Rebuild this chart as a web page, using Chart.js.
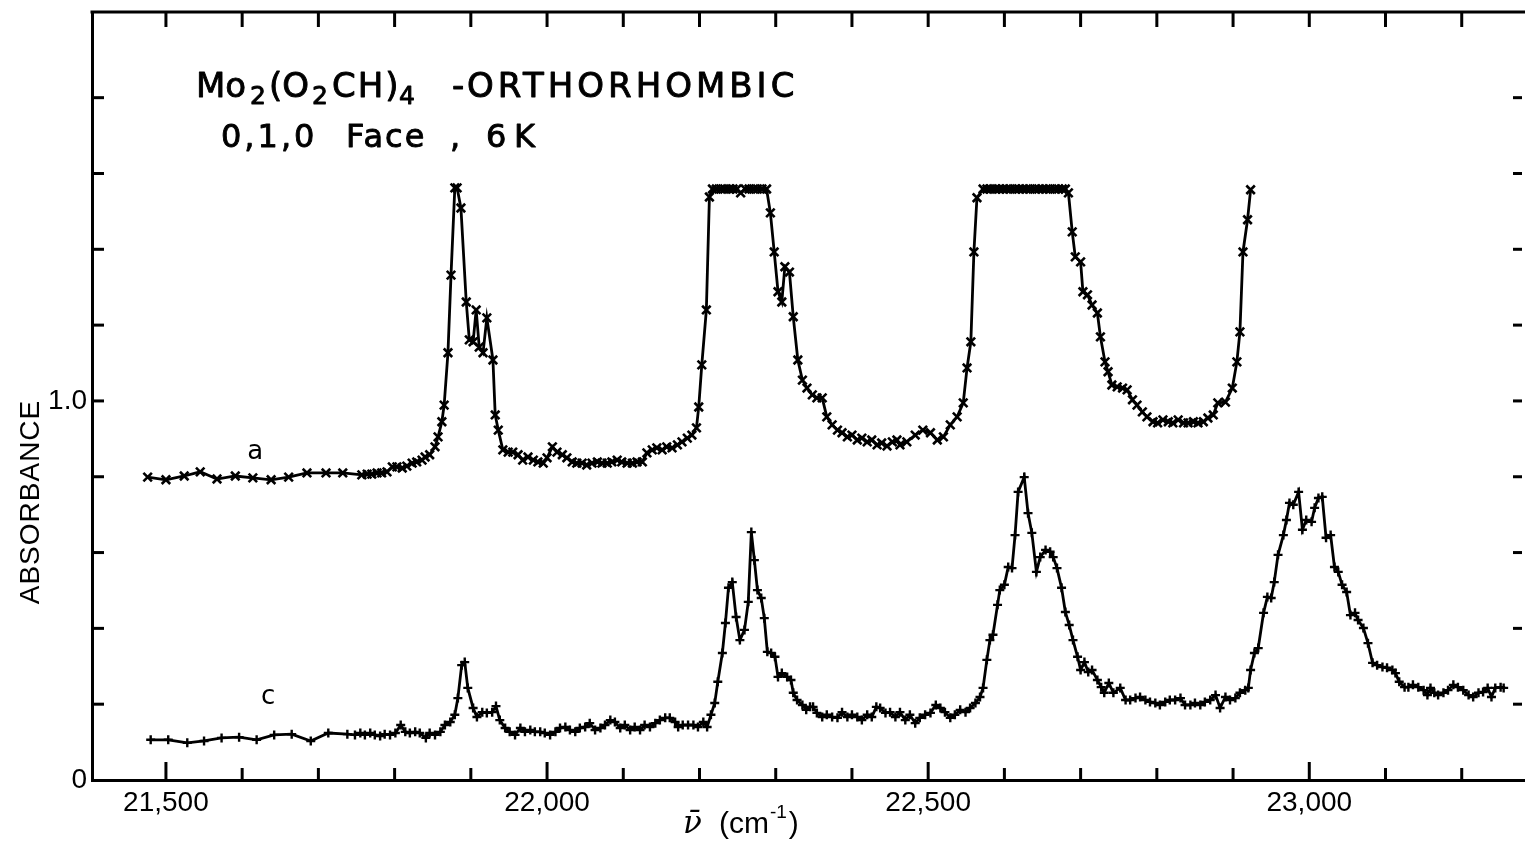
<!DOCTYPE html>
<html>
<head>
<meta charset="utf-8">
<script src="https://cdn.jsdelivr.net/npm/chart.js@4/dist/chart.umd.min.js"></script>
<style>
html,body{margin:0;padding:0;background:#fff;overflow:hidden}
canvas{display:block}
</style>
</head>
<body>
<canvas id="chart" width="1525" height="843"></canvas>
<script>
// ---- DATA (wavenumber in cm^-1, absorbance) ----
const spectrumA = [
[21476,0.799],[21500,0.792],[21524,0.802],[21545,0.813],[21567,0.794],[21591,0.802],[21614,0.797],[21638,0.792],
[21661,0.799],[21685,0.810],[21710,0.810],[21732,0.810],[21757,0.805],[21764,0.807],[21770,0.807],[21777,0.810],
[21783,0.810],[21790,0.813],[21797,0.826],[21803,0.826],[21810,0.823],[21816,0.828],[21823,0.836],[21829,0.839],
[21836,0.844],[21840,0.852],[21846,0.858],[21853,0.879],[21857,0.905],[21862,0.945],[21865,0.989],[21870,1.127],
[21874,1.332],[21879,1.562],[21882,1.562],[21887,1.509],[21894,1.261],[21898,1.161],[21903,1.156],[21907,1.240],
[21911,1.142],[21916,1.127],[21921,1.219],[21929,1.108],[21932,0.963],[21936,0.923],[21942,0.871],[21949,0.865],
[21955,0.865],[21962,0.858],[21968,0.844],[21975,0.852],[21982,0.844],[21988,0.839],[21995,0.836],[22000,0.850],
[22007,0.879],[22013,0.865],[22020,0.858],[22026,0.850],[22033,0.839],[22039,0.836],[22046,0.836],[22052,0.831],
[22059,0.836],[22066,0.839],[22072,0.836],[22079,0.836],[22085,0.839],[22092,0.844],[22098,0.839],[22105,0.836],
[22112,0.836],[22118,0.839],[22125,0.839],[22131,0.863],[22138,0.871],[22144,0.876],[22151,0.871],[22157,0.879],
[22164,0.876],[22171,0.884],[22177,0.892],[22184,0.902],[22190,0.910],[22196,0.929],[22199,0.984],[22203,1.095],
[22209,1.240],[22213,1.538],[22217,1.559],[22222,1.559],[22228,1.559],[22233,1.559],[22239,1.559],[22244,1.559],
[22249,1.559],[22254,1.549],[22260,1.559],[22265,1.559],[22271,1.559],[22276,1.559],[22282,1.559],[22288,1.559],
[22293,1.496],[22298,1.393],[22303,1.288],[22308,1.261],[22312,1.354],[22318,1.340],[22323,1.222],[22329,1.108],
[22335,1.055],[22341,1.034],[22348,1.016],[22354,1.008],[22361,1.008],[22367,0.958],[22374,0.937],[22381,0.923],
[22387,0.916],[22394,0.905],[22400,0.910],[22407,0.897],[22413,0.902],[22420,0.892],[22426,0.897],[22433,0.884],
[22439,0.889],[22446,0.881],[22453,0.892],[22459,0.897],[22463,0.884],[22472,0.892],[22483,0.910],[22493,0.923],
[22503,0.916],[22512,0.897],[22520,0.905],[22529,0.937],[22538,0.958],[22546,0.995],[22551,1.087],[22556,1.156],
[22560,1.393],[22564,1.536],[22572,1.559],[22577,1.559],[22582,1.559],[22588,1.559],[22593,1.559],[22598,1.559],
[22603,1.559],[22608,1.559],[22614,1.559],[22619,1.559],[22624,1.559],[22629,1.559],[22634,1.559],[22640,1.559],
[22645,1.559],[22650,1.559],[22655,1.559],[22660,1.559],[22666,1.559],[22671,1.559],[22676,1.559],[22680,1.559],
[22684,1.549],[22689,1.446],[22693,1.380],[22700,1.367],[22703,1.288],[22709,1.280],[22715,1.253],[22722,1.232],
[22726,1.169],[22732,1.103],[22736,1.077],[22741,1.042],[22748,1.037],[22755,1.034],[22761,1.029],[22768,1.003],
[22774,0.989],[22781,0.971],[22787,0.958],[22795,0.945],[22801,0.942],[22808,0.950],[22815,0.945],[22821,0.942],
[22828,0.950],[22835,0.942],[22841,0.942],[22848,0.945],[22854,0.942],[22861,0.945],[22867,0.955],[22874,0.963],
[22880,0.995],[22890,0.997],[22899,1.034],[22905,1.103],[22909,1.182],[22913,1.393],[22919,1.478],[22923,1.557]
];

const spectrumC = [
[21480,0.106],[21503,0.106],[21528,0.098],[21550,0.103],[21573,0.111],[21596,0.113],[21619,0.106],[21642,0.119],
[21665,0.121],[21690,0.103],[21713,0.124],[21738,0.121],[21748,0.119],[21755,0.124],[21761,0.119],[21768,0.124],
[21774,0.119],[21781,0.116],[21787,0.121],[21794,0.119],[21801,0.124],[21808,0.145],[21814,0.127],[21820,0.124],
[21827,0.127],[21833,0.124],[21841,0.111],[21846,0.124],[21853,0.119],[21860,0.127],[21866,0.145],[21873,0.153],
[21879,0.172],[21883,0.216],[21888,0.303],[21892,0.311],[21896,0.243],[21903,0.190],[21908,0.166],[21915,0.179],
[21921,0.177],[21928,0.179],[21933,0.195],[21938,0.158],[21945,0.137],[21951,0.127],[21958,0.119],[21965,0.137],
[21971,0.127],[21978,0.132],[21984,0.127],[21991,0.127],[21997,0.124],[22004,0.119],[22011,0.127],[22017,0.137],
[22024,0.140],[22030,0.132],[22037,0.127],[22043,0.137],[22050,0.140],[22056,0.150],[22063,0.132],[22070,0.137],
[22076,0.145],[22083,0.158],[22089,0.153],[22096,0.137],[22102,0.145],[22109,0.132],[22115,0.140],[22122,0.132],
[22128,0.145],[22135,0.140],[22142,0.150],[22148,0.158],[22155,0.164],[22161,0.164],[22168,0.153],[22172,0.140],
[22178,0.145],[22185,0.145],[22192,0.145],[22198,0.140],[22205,0.153],[22210,0.140],[22215,0.172],[22220,0.203],
[22224,0.259],[22230,0.335],[22234,0.414],[22238,0.507],[22243,0.522],[22248,0.430],[22253,0.369],[22259,0.396],
[22264,0.470],[22268,0.654],[22272,0.580],[22276,0.501],[22281,0.480],[22285,0.427],[22289,0.338],[22294,0.335],
[22299,0.325],[22303,0.272],[22308,0.282],[22315,0.272],[22320,0.264],[22323,0.230],[22328,0.211],[22335,0.198],
[22340,0.185],[22345,0.193],[22349,0.193],[22354,0.177],[22361,0.166],[22367,0.172],[22374,0.166],[22381,0.164],
[22387,0.179],[22394,0.166],[22400,0.172],[22407,0.166],[22413,0.158],[22420,0.172],[22426,0.166],[22432,0.193],
[22437,0.190],[22444,0.177],[22450,0.179],[22457,0.166],[22463,0.179],[22470,0.158],[22476,0.172],[22483,0.150],
[22489,0.164],[22496,0.172],[22503,0.177],[22510,0.198],[22516,0.190],[22522,0.179],[22529,0.164],[22535,0.172],
[22542,0.185],[22549,0.179],[22555,0.190],[22562,0.203],[22568,0.219],[22572,0.243],[22577,0.317],[22581,0.369],
[22585,0.383],[22591,0.462],[22594,0.501],[22600,0.515],[22605,0.562],[22610,0.559],[22614,0.646],[22618,0.760],
[22626,0.799],[22631,0.704],[22636,0.652],[22642,0.549],[22647,0.588],[22654,0.607],[22660,0.602],[22664,0.588],
[22669,0.559],[22675,0.507],[22680,0.443],[22685,0.409],[22690,0.369],[22696,0.325],[22700,0.290],[22705,0.311],
[22710,0.285],[22715,0.290],[22722,0.264],[22727,0.245],[22731,0.230],[22737,0.256],[22743,0.230],[22752,0.243],
[22759,0.211],[22765,0.211],[22772,0.216],[22778,0.219],[22785,0.211],[22791,0.206],[22798,0.203],[22804,0.198],
[22811,0.206],[22817,0.211],[22824,0.211],[22831,0.216],[22837,0.198],[22844,0.198],[22850,0.203],[22857,0.198],
[22863,0.206],[22870,0.211],[22877,0.224],[22883,0.190],[22890,0.219],[22896,0.211],[22903,0.216],[22909,0.230],
[22916,0.237],[22920,0.243],[22923,0.290],[22928,0.335],[22933,0.348],[22940,0.441],[22945,0.483],[22950,0.480],
[22954,0.522],[22959,0.594],[22966,0.646],[22970,0.686],[22974,0.731],[22979,0.726],[22986,0.760],[22991,0.660],
[22996,0.686],[23003,0.681],[23007,0.718],[23012,0.744],[23017,0.747],[23022,0.639],[23028,0.646],[23033,0.562],
[23038,0.549],[23043,0.515],[23049,0.496],[23054,0.435],[23060,0.441],[23064,0.422],[23071,0.401],[23077,0.361],
[23083,0.309],[23089,0.303],[23096,0.298],[23102,0.296],[23109,0.290],[23113,0.282],[23118,0.259],[23125,0.245],
[23130,0.245],[23136,0.251],[23143,0.245],[23150,0.237],[23155,0.224],[23159,0.243],[23164,0.230],[23169,0.224],
[23176,0.230],[23182,0.237],[23189,0.251],[23195,0.245],[23202,0.237],[23209,0.224],[23215,0.219],[23222,0.230],
[23228,0.232],[23234,0.243],[23239,0.219],[23244,0.243],[23251,0.245],[23255,0.243]
];

const xLabelTicks = [21500, 22000, 22500, 23000];
const xMinorTicks = [21500,21600,21700,21800,21900,22000,22100,22200,22300,22400,22500,22600,22700,22800,22900,23000,23100,23200];
const yLabelTicks = [0, 1.0];
const yMinorTicks = [0.2,0.4,0.6,0.8,1.0,1.2,1.4,1.6,1.8];
const xRange = [21403, 23283];
const yRange = [0, 2.026];
const curveLabels = [{text:'a', x:21617, y:0.865}, {text:'c', x:21634, y:0.219}];

// ---- drawing ----
const framePlugin = {
  id: 'frame',
  beforeDraw(chart) {
    const ctx = chart.ctx;
    ctx.save(); ctx.fillStyle = '#fff'; ctx.fillRect(0, 0, chart.width, chart.height); ctx.restore();
  },
  afterDraw(chart) {
    const ctx = chart.ctx, xs = chart.scales.x, ys = chart.scales.y, a = chart.chartArea;
    ctx.save();
    ctx.strokeStyle = '#000'; ctx.lineWidth = 3; ctx.lineCap = 'butt';
    const seg = (x1,y1,x2,y2) => { ctx.beginPath(); ctx.moveTo(x1,y1); ctx.lineTo(x2,y2); ctx.stroke(); };
    // top frame line
    seg(a.left - 1.5, a.top, chart.width, a.top);
    // x ticks (bottom pointing up, top pointing down)
    xMinorTicks.forEach(v => {
      const px = xs.getPixelForValue(v);
      const len = xLabelTicks.includes(v) ? 18 : 12;
      seg(px, a.bottom, px, a.bottom - len);
      seg(px, a.top, px, a.top + 15);
    });
    // y ticks (left pointing right, right edge short marks)
    yMinorTicks.forEach(v => {
      const py = ys.getPixelForValue(v);
      seg(a.left, py, a.left + 12, py);
      seg(chart.width - 12, py, chart.width - 3, py);
    });
    // title (slightly thickened to match the heavy print)
    ctx.fillStyle = '#000';
    ctx.lineWidth = 0.9;
    ctx.lineJoin = 'round';
    ctx.textBaseline = 'alphabetic';
    ctx.textAlign = 'left';
    const runs1 = [
      {t:'Mo', x:196, f:'34px "DejaVu Sans"'},
      {t:'2', x:250, f:'25px "DejaVu Sans"', dy:7},
      {t:'(O', x:269, f:'34px "DejaVu Sans"'},
      {t:'2', x:312, f:'25px "DejaVu Sans"', dy:7},
      {t:'CH)', x:332, f:'34px "DejaVu Sans"', ls:'2px'},
      {t:'4', x:399, f:'25px "DejaVu Sans"', dy:7},
      {t:'-', x:452, f:'34px "DejaVu Sans"'},
      {t:'ORTHORHOMBIC', x:467, f:'34px "DejaVu Sans"', ls:'4px'}
    ];
    runs1.forEach(r => {
      ctx.font = r.f; ctx.letterSpacing = r.ls || '0px';
      ctx.fillText(r.t, r.x, 97 + (r.dy || 0)); ctx.strokeText(r.t, r.x, 97 + (r.dy || 0));
    });
    const runs2 = [
      {t:'0,1,0', x:221, ls:'3px'},
      {t:'Face', x:346, ls:'2px'},
      {t:',', x:450},
      {t:'6', x:486},
      {t:'K', x:514}
    ];
    ctx.font = '32px "DejaVu Sans"';
    runs2.forEach(r => { ctx.letterSpacing = r.ls || '0px'; ctx.fillText(r.t, r.x, 147); ctx.strokeText(r.t, r.x, 147); });
    ctx.letterSpacing = '0px';
    // curve labels
    ctx.font = '26px "DejaVu Sans"';
    ctx.textAlign = 'center'; ctx.textBaseline = 'middle';
    curveLabels.forEach(l => ctx.fillText(l.text, xs.getPixelForValue(l.x), ys.getPixelForValue(l.y)));
    // y axis title
    ctx.save();
    ctx.translate(31, 502); ctx.rotate(-Math.PI/2);
    ctx.font = '28px "Liberation Sans"'; ctx.letterSpacing = '1px';
    ctx.fillText('ABSORBANCE', 0, 0);
    ctx.restore();
    // x axis title
    ctx.textAlign = 'left'; ctx.textBaseline = 'alphabetic';
    ctx.font = 'italic 31px "DejaVu Serif"';
    ctx.fillText('\u03BD\u0304', 683, 833);
    ctx.font = '30px "Liberation Sans"';
    ctx.fillText('(cm', 719, 833);
    const wcm = ctx.measureText('(cm').width;
    ctx.font = '19px "Liberation Sans"';
    ctx.fillText('-1', 719 + wcm + 1, 818);
    const w1 = ctx.measureText('-1').width;
    ctx.font = '30px "Liberation Sans"';
    ctx.fillText(')', 719 + wcm + w1 + 3, 833);
    ctx.restore();
  }
};

const toPoints = arr => arr.map(p => ({x: p[0], y: p[1]}));

new Chart(document.getElementById('chart'), {
  type: 'scatter',
  data: {
    datasets: [
      { label: 'a', data: toPoints(spectrumA), showLine: true, borderColor: '#000', borderWidth: 2.8,
        pointStyle: 'crossRot', pointRadius: 6, pointBorderWidth: 2.6, pointBorderColor: '#000', pointBackgroundColor: '#000', tension: 0 },
      { label: 'c', data: toPoints(spectrumC), showLine: true, borderColor: '#000', borderWidth: 2.8,
        pointStyle: 'cross', pointRadius: 4.5, pointBorderWidth: 2.4, pointBorderColor: '#000', pointBackgroundColor: '#000', tension: 0 }
    ]
  },
  options: {
    responsive: false,
    devicePixelRatio: 1,
    animation: false,
    layout: { autoPadding: false, padding: { top: 12, right: 0, left: 0, bottom: 0 } },
    plugins: { legend: { display: false }, tooltip: { enabled: false }, title: { display: false } },
    scales: {
      x: {
        type: 'linear', position: 'bottom', min: xRange[0], max: xRange[1],
        grid: { display: false, drawTicks: false },
        border: { display: true, color: '#000', width: 3 },
        afterBuildTicks: s => { s.ticks = xLabelTicks.map(v => ({value: v})); },
        afterFit: s => { s.height = 63; s.paddingLeft = 0; s.paddingRight = 0; },
        ticks: { color: '#000', padding: 6, maxRotation: 0, autoSkip: false,
          font: { family: 'Liberation Sans', size: 28 },
          callback: v => v.toLocaleString('en-US') }
      },
      y: {
        type: 'linear', position: 'left', min: yRange[0], max: yRange[1],
        grid: { display: false, drawTicks: false },
        border: { display: true, color: '#000', width: 3 },
        afterBuildTicks: s => { s.ticks = yLabelTicks.map(v => ({value: v})); },
        afterFit: s => { s.width = 92; s.paddingTop = 0; s.paddingBottom = 0; },
        ticks: { color: '#000', padding: 5, font: { family: 'Liberation Sans', size: 28 },
          callback: v => (v === 0 ? '0' : v.toFixed(1)) }
      }
    }
  },
  plugins: [framePlugin]
});
</script>
</body>
</html>
